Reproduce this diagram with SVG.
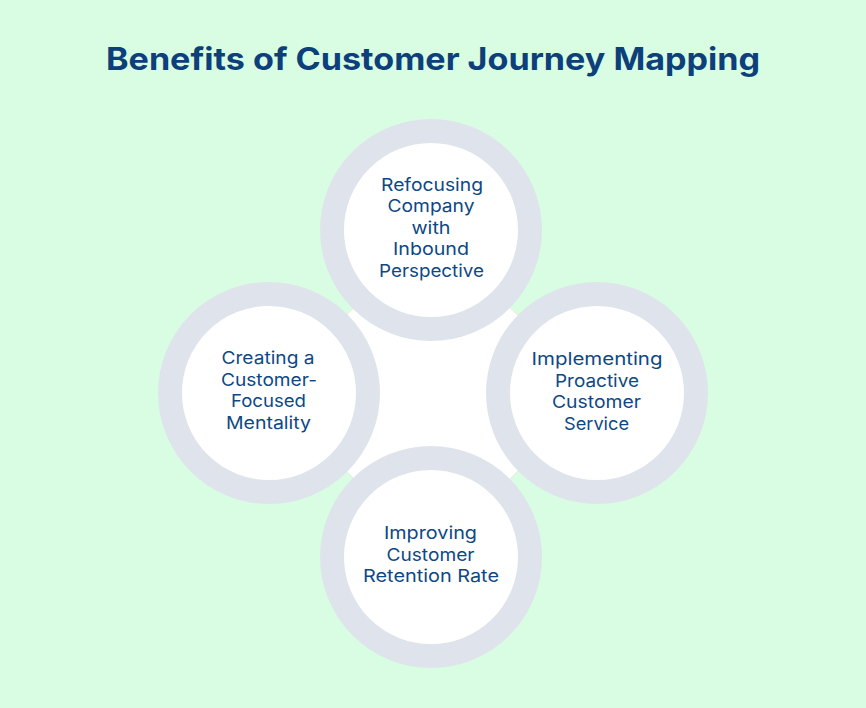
<svg xmlns="http://www.w3.org/2000/svg" width="866" height="708" viewBox="0 0 866 708">
<style>
.ring{fill:#ffffff;stroke:#dfe4ec;stroke-width:24}
.lbl{font-family:Inter,"Open Sans",sans-serif;font-size:17.5px;font-weight:400;fill:#0d4885;text-anchor:middle}
.title{font-family:Inter,"Open Sans",sans-serif;font-size:31px;font-weight:700;fill:#0d3f7a;text-anchor:middle}
</style>
<rect width="866" height="708" fill="#d8fde2"/>
<text class="title" x="433" y="70" textLength="654" lengthAdjust="spacingAndGlyphs">Benefits of Customer Journey Mapping</text>
<g id="connectors">
<polygon points="431,230 597,393 431,557 269,393" fill="#ffffff" stroke="#f3e6d0" stroke-width="1"/>
</g>
<g id="node-top">
<circle class="ring" cx="431" cy="230" r="99"/>
<text class="lbl" x="432" y="190.5" textLength="102" lengthAdjust="spacingAndGlyphs">Refocusing</text>
<text class="lbl" x="431" y="212" textLength="87" lengthAdjust="spacingAndGlyphs">Company</text>
<text class="lbl" x="431" y="233.5" textLength="39" lengthAdjust="spacingAndGlyphs">with</text>
<text class="lbl" x="431" y="255" textLength="76" lengthAdjust="spacingAndGlyphs">Inbound</text>
<text class="lbl" x="431.5" y="276.5" textLength="105" lengthAdjust="spacingAndGlyphs">Perspective</text>
</g>
<g id="node-left">
<circle class="ring" cx="269" cy="393" r="99"/>
<text class="lbl" x="268" y="364" textLength="93" lengthAdjust="spacingAndGlyphs">Creating a</text>
<text class="lbl" x="269" y="385.5" textLength="96" lengthAdjust="spacingAndGlyphs">Customer-</text>
<text class="lbl" x="268.5" y="407" textLength="75" lengthAdjust="spacingAndGlyphs">Focused</text>
<text class="lbl" x="268.5" y="428.5" textLength="85" lengthAdjust="spacingAndGlyphs">Mentality</text>
</g>
<g id="node-right">
<circle class="ring" cx="597" cy="393" r="99"/>
<text class="lbl" x="597" y="365" textLength="131" lengthAdjust="spacingAndGlyphs">Implementing</text>
<text class="lbl" x="597" y="386.5" textLength="84" lengthAdjust="spacingAndGlyphs">Proactive</text>
<text class="lbl" x="596.5" y="408" textLength="89" lengthAdjust="spacingAndGlyphs">Customer</text>
<text class="lbl" x="596.5" y="429.5" textLength="65" lengthAdjust="spacingAndGlyphs">Service</text>
</g>
<g id="node-bottom">
<circle class="ring" cx="431" cy="557" r="99"/>
<text class="lbl" x="430.5" y="539" textLength="93" lengthAdjust="spacingAndGlyphs">Improving</text>
<text class="lbl" x="430.5" y="560.5" textLength="88" lengthAdjust="spacingAndGlyphs">Customer</text>
<text class="lbl" x="431" y="582" textLength="136" lengthAdjust="spacingAndGlyphs">Retention Rate</text>
</g>
</svg>
